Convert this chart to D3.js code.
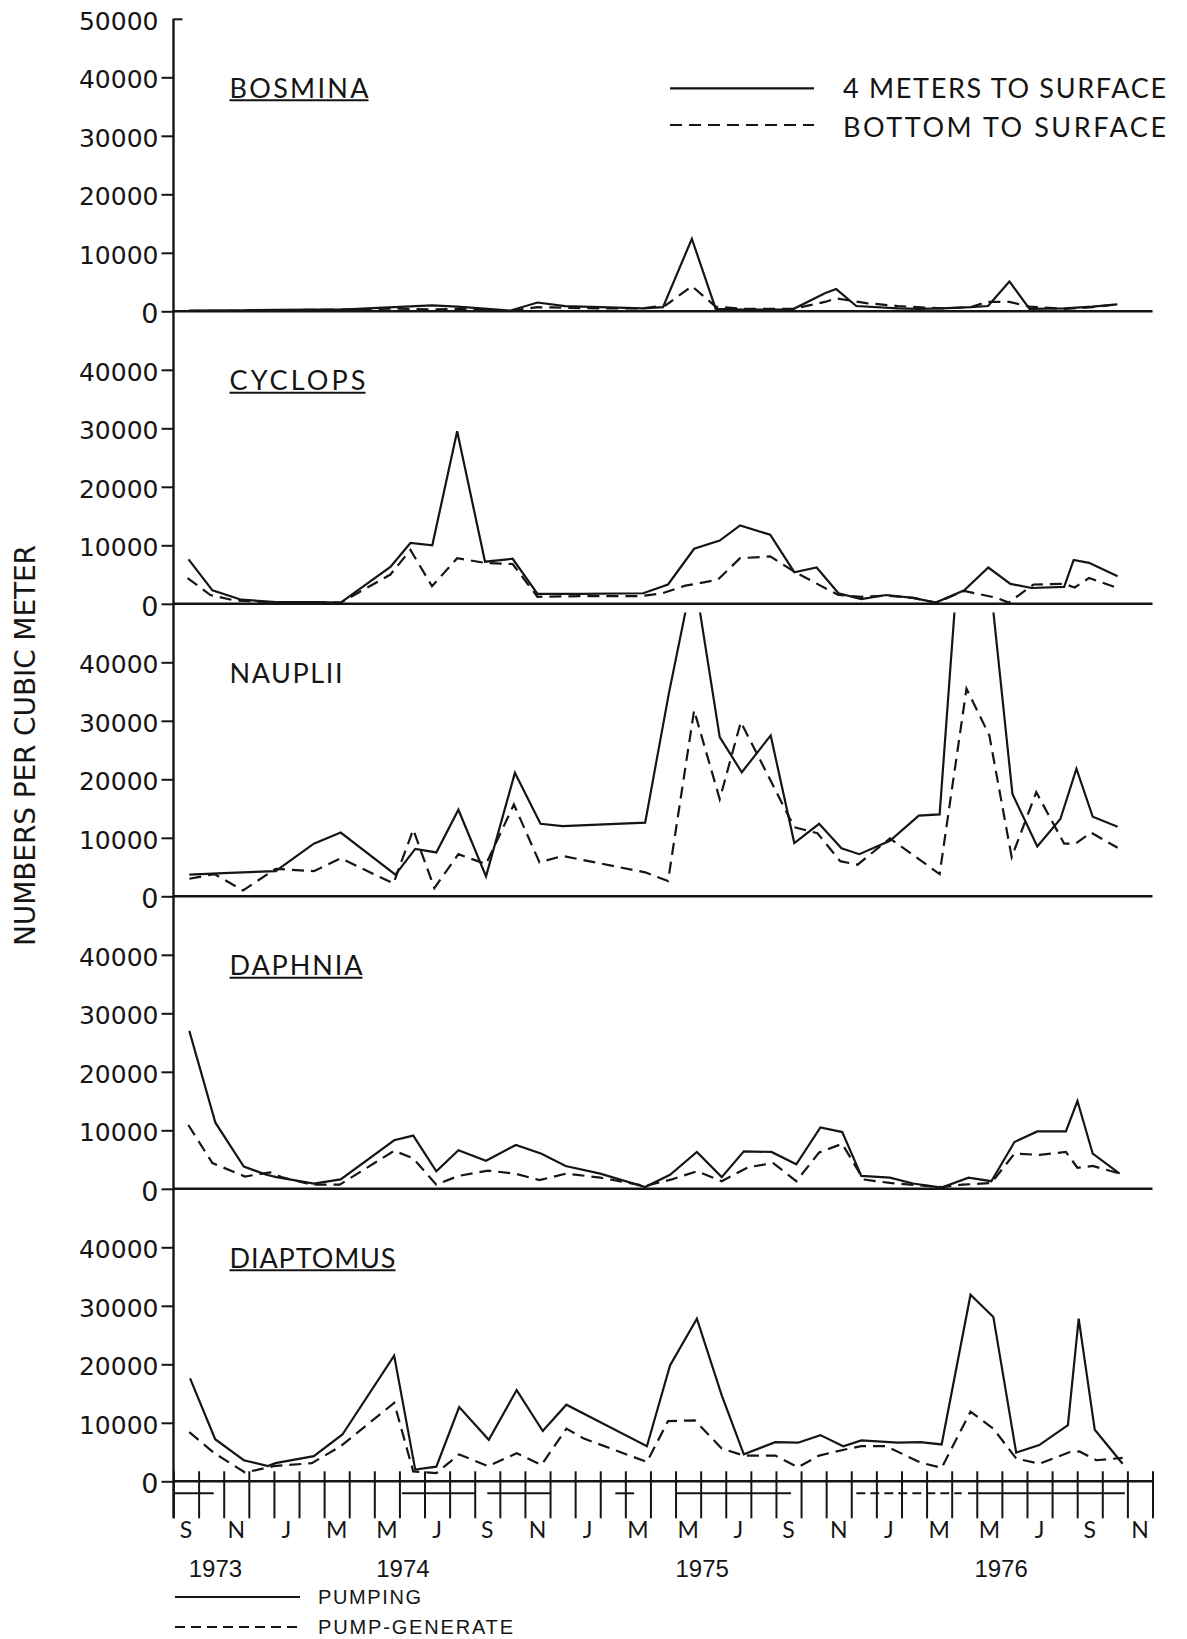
<!DOCTYPE html>
<html>
<head>
<meta charset="utf-8">
<script src="https://cdn.jsdelivr.net/npm/d3@7/dist/d3.min.js"></script>
<style>
  html, body { margin: 0; padding: 0; background: #fff; }
  svg { display: block; }
</style>
</head>
<body>
<svg id="chart" width="1187" height="1639"></svg>
<script>
// ---- data: months counted from 1 Sep 1973 (0) to 1 Dec 1976 (39); numbers per cubic metre ----
const species = ["BOSMINA", "CYCLOPS", "NAUPLII", "DAPHNIA", "DIAPTOMUS"];
const titleUnderlined = [true, true, false, true, true];
const monthLabels = ["S","N","J","M","M","J","S","N","J","M","M","J","S","N","J","M","M","J","S","N"];
const yearLabels = ["1973", "1974", "1975", "1976"];
const yearMonth = [1.67, 9.14, 21.06, 32.97];
const yTickValues = [0, 10000, 20000, 30000, 40000];
const topTickValues = [0, 10000, 20000, 30000, 40000, 50000];
const seriesNames = ["4 METERS TO SURFACE", "BOTTOM TO SURFACE"];
const methodNames = ["PUMPING", "PUMP-GENERATE"];
// sampling-method periods, in months
const pumpingSpans = [[0, 1.6], [9.1, 12.05], [12.5, 15.0], [17.6, 18.35], [20.0, 24.6], [31.65, 37.9]];
const pumpGenerateSpans = [[27.2, 31.4]];

// [month, value] — 4 m to surface
const bosmina4m = [[0.6,100],[2.7,150],[4.1,250],[5.6,300],[6.7,300],[8.8,700],[10.3,1000],[11.3,800],[12.5,400],[13.4,100],[14.5,1500],[15.6,900],[17.0,700],[18.7,500],[19.5,700],[20.65,12400],[21.6,400],[22.7,300],[24.65,300],[25.95,3100],[26.4,3800],[27.2,900],[28.85,500],[29.7,400],[30.6,500],[31.75,700],[32.45,900],[33.3,5100],[34.1,400],[35.5,500],[36.6,800],[37.6,1200]];
// [month, value] — bottom to surface
const bosminaBottom = [[0.6,50],[2.8,100],[4.1,200],[5.6,250],[6.7,300],[8.8,450],[10.3,300],[11.3,400],[12.5,200],[13.4,100],[14.5,700],[15.6,600],[17.0,500],[18.7,500],[19.6,1000],[20.65,4300],[21.6,800],[22.7,400],[24.65,400],[25.95,1600],[26.4,2200],[27.6,1400],[28.85,900],[30.6,500],[31.75,700],[32.4,1600],[33.3,1600],[34.1,800],[35.5,400],[36.6,700],[37.6,1200]];

const cyclops4m = [[0.6,7600],[1.55,2300],[2.7,700],[4.1,300],[5.6,300],[6.66,200],[8.64,6300],[9.44,10400],[10.31,10000],[11.3,29500],[12.41,7200],[13.51,7700],[14.5,1700],[16.2,1700],[18.71,1800],[19.7,3300],[20.74,9400],[21.76,10800],[22.57,13400],[23.77,11800],[24.73,5400],[25.62,6200],[26.49,1800],[27.4,800],[28.39,1500],[29.46,1000],[30.37,200],[31.5,2300],[32.46,6200],[33.34,3400],[34.18,2700],[35.48,2900],[35.86,7500],[36.47,7000],[37.61,4700]];
const cyclopsBottom = [[0.56,4400],[1.47,1500],[2.4,600],[4.1,200],[5.6,300],[6.66,200],[8.64,5000],[9.44,9200],[10.3,3000],[11.3,7800],[12.41,7000],[13.51,6800],[14.5,1200],[16.2,1300],[18.6,1300],[19.47,1800],[20.39,3100],[21.68,4100],[22.57,7800],[23.77,8100],[24.73,5500],[25.95,2700],[26.49,1500],[27.4,1200],[28.39,1400],[29.46,1000],[30.37,200],[31.5,2200],[32.81,1000],[33.27,200],[34.26,3300],[35.48,3400],[35.9,2800],[36.47,4400],[37.61,2700]];

const nauplii4m = [[0.63,3700],[2.24,4000],[4.07,4300],[5.59,9000],[6.66,10900],[8.84,3700],[9.63,8100],[10.47,7500],[11.35,14800],[12.45,3400],[13.6,21100],[14.62,12400],[15.5,12000],[18.79,12600],[19.73,34600],[20.72,55500],[21.76,27200],[22.64,21200],[23.79,27500],[24.73,9100],[25.72,12400],[26.61,8200],[27.32,7200],[28.54,9500],[29.69,13800],[30.52,14000],[31.75,86000],[33.42,17500],[34.41,8500],[35.33,13200],[35.97,21800],[36.62,13600],[37.61,11900]];
const naupliiBottom = [[0.63,3000],[1.63,3800],[2.77,1000],[4.07,4700],[5.59,4300],[6.66,6500],[8.76,2200],[9.55,11400],[10.39,1400],[11.35,7200],[12.45,5500],[13.56,15700],[14.58,5800],[15.5,6900],[18.79,4100],[19.7,2600],[20.74,31800],[21.76,16600],[22.6,29800],[24.73,11800],[25.65,10800],[26.56,6000],[27.25,5400],[28.54,9900],[30.52,3800],[31.59,35500],[32.5,27500],[33.39,6700],[34.37,17800],[35.48,9000],[35.93,9000],[36.55,10900],[37.61,8300]];

const daphnia4m = [[0.63,27000],[1.67,11300],[2.8,3800],[3.7,2400],[4.1,2000],[5.59,900],[6.66,1600],[8.79,8300],[9.55,9100],[10.47,3000],[11.35,6600],[12.45,4800],[13.64,7500],[14.66,6000],[15.62,3900],[17.0,2600],[18.79,300],[19.78,2400],[20.85,6300],[21.84,2000],[22.72,6400],[23.82,6300],[24.81,4200],[25.77,10500],[26.64,9700],[27.4,2200],[28.54,1900],[29.46,900],[30.6,200],[31.67,1900],[32.58,1300],[33.5,8000],[34.41,9800],[35.55,9800],[36.01,15000],[36.62,6000],[37.69,2600]];
const daphniaBottom = [[0.59,10900],[1.55,4400],[2.85,2100],[3.84,2800],[4.3,2000],[5.51,700],[6.62,700],[8.79,6500],[9.55,5200],[10.47,700],[11.35,2200],[12.53,3100],[13.6,2600],[14.58,1500],[15.65,2600],[17.0,1900],[18.79,500],[19.85,1600],[20.85,3000],[21.84,1300],[22.9,3700],[23.89,4400],[24.81,1300],[25.72,6200],[26.64,7700],[27.48,1600],[28.54,1000],[30.6,300],[31.44,700],[32.58,1000],[33.5,6000],[34.5,5800],[35.55,6300],[36.01,3600],[36.62,3900],[37.69,2600]];

const diaptomus4m = [[0.66,17600],[1.66,7200],[2.8,3600],[3.76,2600],[4.06,3100],[5.59,4300],[6.73,8000],[8.79,21500],[9.63,2000],[10.47,2500],[11.38,12700],[12.56,7100],[13.67,15600],[14.71,8600],[15.65,13100],[18.86,6000],[19.78,19800],[20.85,27800],[21.84,14700],[22.72,4600],[23.97,6700],[24.88,6600],[25.77,7900],[26.68,6000],[27.4,7000],[28.85,6600],[29.76,6700],[30.6,6300],[31.75,31900],[32.66,28100],[33.57,4900],[34.49,6200],[35.63,9600],[36.06,27800],[36.7,8800],[37.81,3000]];
const diaptomusBottom = [[0.63,8400],[1.63,4800],[2.85,1500],[3.99,2600],[5.51,3100],[6.66,6000],[8.79,13400],[9.55,1700],[10.47,1400],[11.38,4600],[12.53,2600],[13.67,4800],[14.66,2800],[15.65,9000],[16.35,7300],[18.86,3300],[19.7,10300],[20.77,10400],[21.84,5600],[22.72,4400],[23.97,4400],[24.88,2400],[25.72,4400],[26.71,5400],[27.4,6000],[28.39,6000],[29.76,3200],[30.6,2300],[31.75,11900],[32.66,9000],[33.57,3900],[34.49,3000],[35.71,5000],[36.09,5100],[36.77,3600],[37.81,4000]];

const surfaceSeries = [bosmina4m, cyclops4m, nauplii4m, daphnia4m, diaptomus4m];
const bottomSeries = [bosminaBottom, cyclopsBottom, naupliiBottom, daphniaBottom, diaptomusBottom];

// ---- layout ----
const INK = "#151515";
const X_LEFT = 173.5, X_RIGHT = 1152.5;
const FIRST_ZERO = 311.3, PANEL_H = 292.5;
const DASH = "12,7";
const LINE_W = 2.2;
const titleWidths = [139, 136, 113, 133, 166];

const svg = d3.select("#chart");
const defs = svg.append("defs");
const x = d3.scaleLinear().domain([0, 39]).range([X_LEFT, X_RIGHT]);

species.forEach((name, i) => {
  const zero = FIRST_ZERO + PANEL_H * i;
  const y = d3.scaleLinear().domain([0, 50000]).range([zero, zero - PANEL_H]);

  // values beyond the panel are cut a little below the panel above
  defs.append("clipPath").attr("id", "clip" + i)
    .append("rect")
    .attr("x", X_LEFT).attr("width", X_RIGHT - X_LEFT)
    .attr("y", y(48500)).attr("height", zero + 6 - y(48500));

  // y axis ticks and labels
  const ax = svg.append("g")
    .attr("transform", `translate(${X_LEFT},0)`)
    .call(d3.axisLeft(y)
      .tickValues(i === 0 ? topTickValues : yTickValues)
      .tickSize(12).tickPadding(3)
      .tickFormat(d3.format("d")));
  ax.select(".domain").remove();
  ax.attr("font-family", "DejaVu Sans").attr("font-size", 25);
  ax.selectAll(".tick line").attr("stroke", INK).attr("stroke-width", 2);
  ax.selectAll(".tick text").attr("fill", INK).attr("dy", "0.42em");
  ax.selectAll(".tick").filter(d => d === 0).select("text").attr("font-size", 27);
  ax.selectAll(".tick").filter(d => d === 50000).select("line").attr("x2", 9);

  // zero line
  svg.append("line")
    .attr("x1", X_LEFT).attr("x2", X_RIGHT)
    .attr("y1", zero).attr("y2", zero)
    .attr("stroke", INK).attr("stroke-width", 2.4);

  // panel title
  const base = zero - 213.5;
  svg.append("text")
    .attr("x", 229.5).attr("y", base)
    .attr("font-family", "Lato, 'DejaVu Sans', sans-serif")
    .attr("font-size", 27)
    .attr("textLength", titleWidths[i]).attr("lengthAdjust", "spacing")
    .attr("fill", INK)
    .text(name);
  if (titleUnderlined[i]) {
    svg.append("line")
      .attr("x1", 229.5).attr("x2", 229.5 + titleWidths[i])
      .attr("y1", base + 2.5).attr("y2", base + 2.5)
      .attr("stroke", INK).attr("stroke-width", 2);
  }

  // series lines
  const line = d3.line().x(d => x(d[0])).y(d => y(d[1]));
  const plot = svg.append("g").attr("clip-path", `url(#clip${i})`);
  plot.append("path").datum(surfaceSeries[i])
    .attr("d", line).attr("fill", "none")
    .attr("stroke", INK).attr("stroke-width", LINE_W)
    .attr("stroke-linejoin", "miter");
  plot.append("path").datum(bottomSeries[i])
    .attr("d", line).attr("fill", "none")
    .attr("stroke", INK).attr("stroke-width", LINE_W)
    .attr("stroke-dasharray", DASH);
});

const lastZero = FIRST_ZERO + PANEL_H * (species.length - 1);

// continuous vertical axis
svg.append("line")
  .attr("x1", X_LEFT).attr("x2", X_LEFT)
  .attr("y1", FIRST_ZERO - PANEL_H).attr("y2", lastZero + 37)
  .attr("stroke", INK).attr("stroke-width", 2.4);

// month ticks
const xa = svg.append("g")
  .attr("transform", `translate(0,${lastZero})`)
  .call(d3.axisBottom(x).tickValues(d3.range(40)).tickSize(37).tickFormat(""));
xa.select(".domain").remove();
xa.selectAll(".tick line").attr("y1", -10).attr("stroke", INK).attr("stroke-width", 2);

// sampling-method bars under the axis
const barY = lastZero + 12;
svg.append("g").selectAll("line").data(pumpingSpans).join("line")
  .attr("x1", d => x(d[0])).attr("x2", d => x(d[1]))
  .attr("y1", barY).attr("y2", barY)
  .attr("stroke", INK).attr("stroke-width", 2);
svg.append("g").selectAll("line").data(pumpGenerateSpans).join("line")
  .attr("x1", d => x(d[0])).attr("x2", d => x(d[1]))
  .attr("y1", barY).attr("y2", barY)
  .attr("stroke", INK).attr("stroke-width", 2)
  .attr("stroke-dasharray", "9,5");

// month labels, centred on every other month
svg.append("g").selectAll("text").data(monthLabels).join("text")
  .attr("x", (d, i) => x(i * 2 + 0.5))
  .attr("y", lastZero + 57)
  .attr("text-anchor", "middle")
  .attr("font-family", "Lato, 'DejaVu Sans', sans-serif")
  .attr("font-size", 23)
  .attr("fill", INK)
  .text(d => d);

// year labels
svg.append("g").selectAll("text").data(yearLabels).join("text")
  .attr("x", (d, i) => x(yearMonth[i]))
  .attr("y", lastZero + 95.5)
  .attr("text-anchor", "middle")
  .attr("font-family", "'Liberation Sans', Arial, sans-serif")
  .attr("font-size", 24)
  .attr("fill", INK)
  .text(d => d);

// y axis title
svg.append("text")
  .attr("transform", "translate(35,745.5) rotate(-90)")
  .attr("text-anchor", "middle")
  .attr("font-family", "'DejaVu Sans', sans-serif")
  .attr("font-size", 28)
  .attr("textLength", 401).attr("lengthAdjust", "spacing")
  .attr("fill", INK)
  .text("NUMBERS PER CUBIC METER");

// series legend (top right)
const legendRows = [{ y: 88.3, base: 98.3, dash: null }, { y: 125, base: 136.7, dash: DASH }];
legendRows.forEach((r, i) => {
  svg.append("line")
    .attr("x1", 670).attr("x2", 814)
    .attr("y1", r.y).attr("y2", r.y)
    .attr("stroke", INK).attr("stroke-width", LINE_W)
    .attr("stroke-dasharray", r.dash);
  svg.append("text")
    .attr("x", 843).attr("y", r.base)
    .attr("font-family", "Lato, 'DejaVu Sans', sans-serif")
    .attr("font-size", 27)
    .attr("textLength", 323).attr("lengthAdjust", "spacing")
    .attr("fill", INK)
    .text(seriesNames[i]);
});

// sampling-method legend (bottom)
const methodRows = [{ y: 1597, base: 1604, dash: null, w: 103 }, { y: 1627, base: 1634, dash: "10,6", w: 195 }];
methodRows.forEach((r, i) => {
  svg.append("line")
    .attr("x1", 175).attr("x2", 300)
    .attr("y1", r.y).attr("y2", r.y)
    .attr("stroke", INK).attr("stroke-width", 2)
    .attr("stroke-dasharray", r.dash);
  svg.append("text")
    .attr("x", 318).attr("y", r.base)
    .attr("font-family", "'Liberation Sans', Arial, sans-serif")
    .attr("font-size", 20)
    .attr("textLength", r.w).attr("lengthAdjust", "spacing")
    .attr("fill", INK)
    .text(methodNames[i]);
});
</script>
</body>
</html>
